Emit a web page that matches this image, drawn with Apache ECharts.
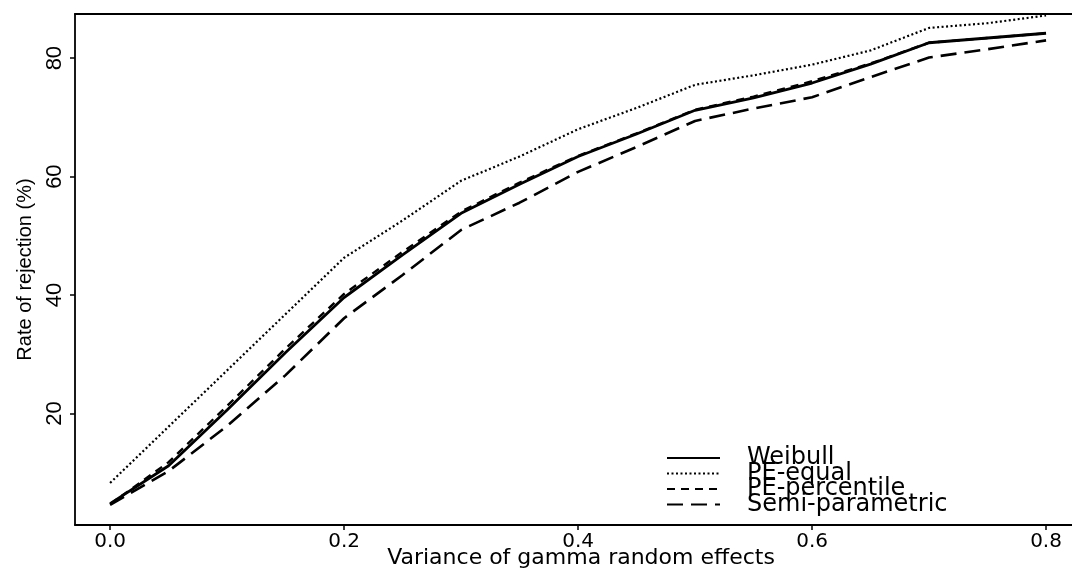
<!DOCTYPE html>
<html>
<head>
<meta charset="utf-8">
<script src="https://cdn.jsdelivr.net/npm/echarts@6/dist/echarts.min.js"></script>
<style>
  html, body { margin: 0; padding: 0; background: #fff; }
  #chart { width: 1072px; height: 571px; }
</style>
</head>
<body>
<div id="chart"></div>
<script>
// Variance of the gamma random effects (x) and rejection rates (%) per method
const variance = [0, 0.05, 0.1, 0.15, 0.2, 0.25, 0.3, 0.35, 0.4, 0.45, 0.5, 0.55, 0.6, 0.65, 0.7, 0.75, 0.8];
const weibull = [4.8, 11.2, 20.6, 30.3, 39.6, 46.8, 53.8, 58.7, 63.4, 67.2, 71.2, 73.3, 75.8, 79.0, 82.6, 83.4, 84.2];
const peEqual = [8.3, 17.8, 27.3, 36.8, 46.3, 52.6, 59.3, 63.4, 68.0, 71.6, 75.5, 77.1, 78.9, 81.3, 85.1, 85.9, 87.2];
const pePercentile = [4.7, 11.8, 21.3, 31.0, 40.2, 47.3, 54.1, 59.0, 63.5, 67.3, 71.3, 73.5, 76.1, 79.1, 82.6, 83.4, 84.2];
const semiParametric = [4.6, 10.3, 17.9, 26.5, 36.1, 43.4, 51.0, 55.6, 60.8, 65.0, 69.4, 71.5, 73.4, 76.8, 80.1, 81.5, 83.0];

const seriesNames = ['Weibull', 'PE-equal', 'PE-percentile', 'Semi-parametric'];
const xTicks = [0, 0.2, 0.4, 0.6, 0.8];
const yTicks = [20, 40, 60, 80];

const pairs = (ys) => variance.map((x, i) => [x, ys[i]]);

const sansFont = '"Liberation Sans", Arial, sans-serif';
const wideFont = '"DejaVu Sans", "Liberation Sans", sans-serif';

const lineSeries = (name, values, width, type) => ({
  name: name,
  type: 'line',
  data: pairs(values),
  symbol: 'none',
  smooth: false,
  lineStyle: { color: '#000', width: width, type: type, cap: 'butt' },
  itemStyle: { color: '#000' },
  emphasis: { disabled: true },
  z: 3
});

const chart = echarts.init(document.getElementById('chart'), null, { renderer: 'canvas' });
chart.setOption({
  animation: false,
  backgroundColor: '#fff',
  grid: {
    left: 75, top: 14, bottom: 46, right: -15,
    containLabel: false,
    outerBoundsMode: 'none'
  },
  legend: {
    data: seriesNames,
    orient: 'vertical',
    left: 666,
    top: 446,
    itemWidth: 53,
    itemHeight: 14,
    itemGap: -8.5,
    padding: 0,
    selectedMode: false,
    itemStyle: { opacity: 0 },
    textStyle: {
      fontFamily: wideFont,
      fontSize: 24,
      color: '#000',
      padding: [0, 0, 0, 22]
    }
  },
  xAxis: [{
    type: 'value',
    min: -0.03,
    max: 0.835,
    position: 'bottom',
    name: 'Variance of gamma random effects',
    nameLocation: 'middle',
    nameGap: 22,
    nameMoveOverlap: false,
    nameTextStyle: { fontFamily: wideFont, fontSize: 22, color: '#000' },
    splitLine: { show: false },
    axisLine: { show: true, onZero: false, lineStyle: { color: '#000', width: 1.8 } },
    axisTick: { show: true, length: 5, customValues: xTicks, lineStyle: { color: '#000', width: 1.5 } },
    axisLabel: {
      customValues: xTicks,
      margin: 7,
      fontFamily: wideFont,
      fontSize: 20,
      color: '#000',
      formatter: (v) => v.toFixed(1)
    }
  }, {
    type: 'value',
    min: -0.03,
    max: 0.835,
    position: 'top',
    splitLine: { show: false },
    axisLine: { show: true, onZero: false, lineStyle: { color: '#000', width: 1.8 } },
    axisTick: { show: false },
    axisLabel: { show: false }
  }],
  yAxis: {
    type: 'value',
    min: 1.2,
    max: 87.45,
    name: 'Rate of rejection (%)',
    nameLocation: 'middle',
    nameRotate: 90,
    nameGap: 40,
    nameMoveOverlap: false,
    nameTextStyle: { fontFamily: sansFont, fontSize: 20, color: '#000' },
    splitLine: { show: false },
    axisLine: { show: true, onZero: false, lineStyle: { color: '#000', width: 1.8 } },
    axisTick: { show: true, length: 5, customValues: yTicks, lineStyle: { color: '#000', width: 1.5 } },
    axisLabel: {
      customValues: yTicks,
      rotate: 90,
      margin: 9,
      fontFamily: sansFont,
      fontSize: 22,
      color: '#000'
    }
  },
  series: [
    lineSeries('Weibull', weibull, 2.8, 'solid'),
    lineSeries('PE-equal', peEqual, 2.2, [2, 2.5]),
    lineSeries('PE-percentile', pePercentile, 2.4, [8, 6]),
    lineSeries('Semi-parametric', semiParametric, 2.6, [16, 8])
  ]
});
</script>
</body>
</html>
